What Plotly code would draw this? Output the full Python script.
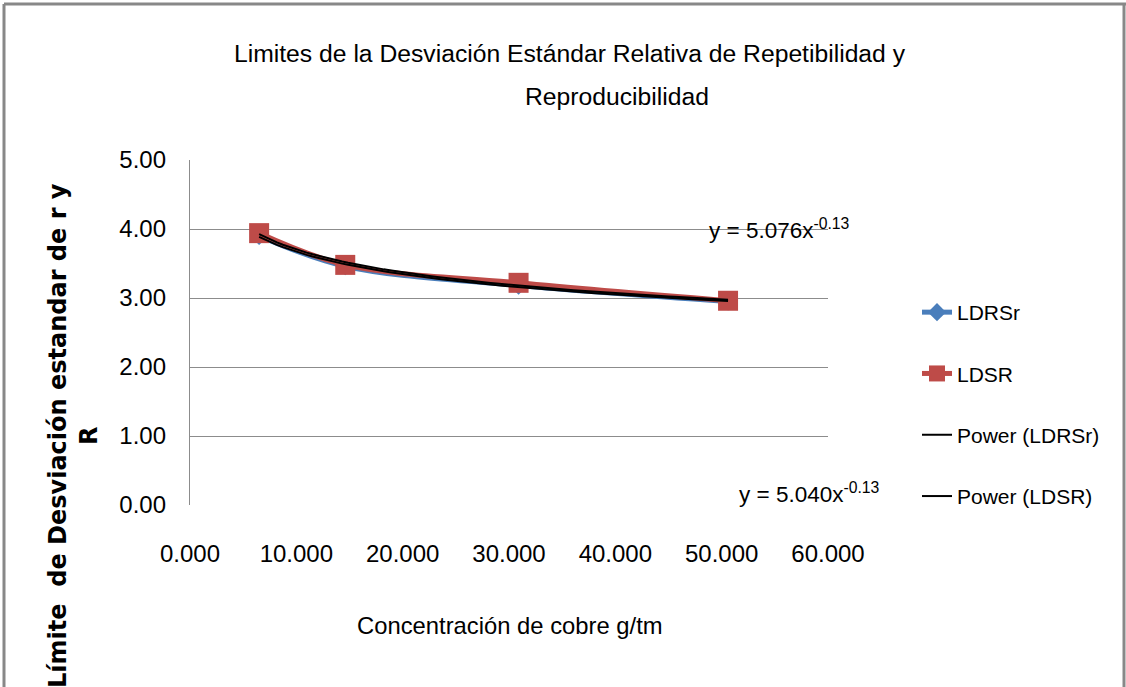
import numpy as np
import plotly.graph_objects as go

# Data
conc = [6.5, 14.6, 30.9, 50.6]           # Concentración de cobre g/tm
ldrsr = [3.90, 3.46, 3.18, 2.95]          # LDRSr
ldsr = [3.94, 3.48, 3.22, 2.96]           # LDSR
eq_labels = ["y = 5.076x<sup>-0.13</sup>", "y = 5.040x<sup>-0.13</sup>"]
title_lines = ["Limites de la Desviación Estándar Relativa de Repetibilidad y", "Reproducibilidad"]
x_title = "Concentración de cobre g/tm"
y_title = "Límite  de Desviación estandar de r y<br>R"

FONT = "Liberation Sans, Arial, sans-serif"
W, H = 1126, 687
L, R, T, B = 190, 1126 - 828, 160, 687 - 505

fig = go.Figure()
fig.add_trace(go.Scatter(x=conc, y=ldrsr, name="LDRSr", mode="lines+markers",
                         line=dict(color="#4A7EBB", width=5, shape="spline"),
                         marker=dict(symbol="diamond", size=14, color="#4A7EBB"),
                         legendgroup="a"))
fig.add_trace(go.Scatter(x=conc, y=ldsr, name="LDSR", mode="lines+markers",
                         line=dict(color="#BE4B48", width=5, shape="spline"),
                         marker=dict(symbol="square", size=20, color="#BE4B48"),
                         legendgroup="b"))
# power trendlines fitted to each series (log-log least squares)
xs = np.linspace(conc[0], conc[-1], 80)
for name, vals, grp in [("LDRSr", ldrsr, "c"), ("LDSR", ldsr, "d")]:
    b, ln_a = np.polyfit(np.log(conc), np.log(vals), 1)
    fig.add_trace(go.Scatter(x=xs, y=np.exp(ln_a) * xs ** b, name=f"Power ({name})",
                             mode="lines", line=dict(color="black", width=2),
                             legendgroup=grp))

px2x = lambda p: (p - L) / (W - L - R)
px2y = lambda p: (H - B - p) / (H - T - B)


def ann(text, px, py, size, **kw):
    d = dict(text=text, x=px2x(px), y=px2y(py), xref="paper", yref="paper",
             xanchor="center", yanchor="middle", showarrow=False,
             font=dict(family=FONT, size=size, color="black"))
    d.update(kw)
    return d


annotations = [
    ann(title_lines[0], 570, 54, 24.7),
    ann(title_lines[1], 617, 96, 24.7),
    ann(eq_labels[0], 779, 229, 22.5),
    ann(eq_labels[1], 809, 493, 22.5),
    ann(x_title, 510, 625, 23.8),
    ann("<b>" + y_title + "</b>", 73, 436, 24, textangle=-90,
        font=dict(family="DejaVu Sans, sans-serif", size=24, color="black")),
]

fig.update_layout(
    width=W, height=H,
    margin=dict(l=L, r=R, t=T, b=B),
    paper_bgcolor="white", plot_bgcolor="white",
    font=dict(family=FONT, size=24, color="black"),
    annotations=annotations,
    showlegend=True,
    legend=dict(x=px2x(917), y=px2y(292), xanchor="left", yanchor="top",
                font=dict(family=FONT, size=21, color="black"),
                tracegroupgap=31, traceorder="grouped", bgcolor="rgba(0,0,0,0)"),
    xaxis=dict(range=[0, 60], dtick=10, tickformat=".3f", showgrid=False, zeroline=False,
               showline=False, ticks="", tickfont=dict(family=FONT, size=24),
               ticklabelstandoff=32),
    yaxis=dict(range=[0, 5], dtick=1, tickformat=".2f", showgrid=True, gridcolor="#8c8c8c",
               gridwidth=1.3, zeroline=False, showline=True, linecolor="#8c8c8c", linewidth=1.3,
               ticks="", tickfont=dict(family=FONT, size=24), ticklabelstandoff=18),
    shapes=[
        dict(type="line", xref="paper", yref="paper", x0=px2x(4), x1=px2x(4),
             y0=px2y(4), y1=px2y(700), line=dict(color="#888888", width=3)),
        dict(type="line", xref="paper", yref="paper", x0=px2x(4), x1=px2x(1130),
             y0=px2y(4), y1=px2y(4), line=dict(color="#888888", width=3)),
        dict(type="line", xref="paper", yref="paper", x0=px2x(1124), x1=px2x(1124),
             y0=px2y(4), y1=px2y(700), line=dict(color="#888888", width=3)),
    ],
)
fig.write_html("out.html", config={"displayModeBar": False},
               post_script="document.body.style.margin='0px';document.body.style.overflow='hidden';")
